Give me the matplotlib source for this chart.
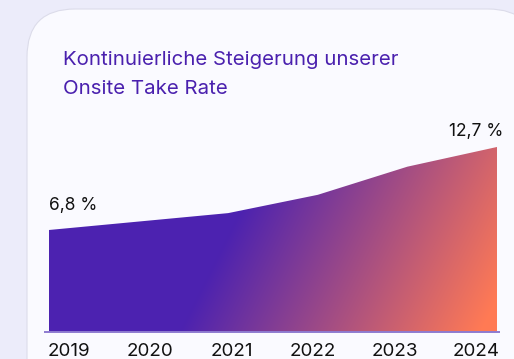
import numpy as np
import matplotlib
matplotlib.use("Agg")
import matplotlib.pyplot as plt
from matplotlib.patches import FancyBboxPatch, Polygon
from matplotlib.colors import to_rgb

# --- data -------------------------------------------------------------
years = ["2019", "2020", "2021", "2022", "2023", "2024"]
take_rate = [6.8, 7.4, 8.0, 9.3, 11.3, 12.7]
first_label = "6,8 %"
last_label = "12,7 %"
title_lines = ["Kontinuierliche Steigerung unserer", "Onsite Take Rate"]

# --- style ------------------------------------------------------------
FONT = "Inter"
BG_OUTER = "#ececfa"
BG_CARD = "#fafaff"
PURPLE = "#4c22b0"
ORANGE = "#ff7a55"
TITLE_COLOR = "#4a20ae"

W, H = 514, 359
DPI = 100
fig = plt.figure(figsize=(W / DPI, H / DPI), dpi=DPI)
fig.patch.set_facecolor(BG_OUTER)

# card with rounded corners (pixel coordinates, origin bottom-left)
card = FancyBboxPatch((27, -60), 536 - 27, (H - 9) + 60,
                      boxstyle="round,pad=0,rounding_size=48",
                      transform=None, facecolor=BG_CARD,
                      edgecolor="#dcdcea", linewidth=0.8, zorder=-5)
fig.patches.append(card)

# title
for i, line in enumerate(title_lines):
    fig.text(63 / W, 1 - (65 + i * 29) / H, line, fontsize=14.7,
             family=FONT, color=TITLE_COLOR, ha="left", va="baseline",
             zorder=5)

# --- chart axes -------------------------------------------------------
x_left, x_right = 49, 497          # pixel span of the area
y_base, y_top = 332, 100           # pixel rows (from top)
ylo = -0.45
px_per_unit = 14.07
yhi = ylo + (y_base - y_top) / px_per_unit

ax = fig.add_axes([x_left / W, (H - y_base) / H,
                   (x_right - x_left) / W, (y_base - y_top) / H])
ax.set_zorder(2)
ax.set_xlim(0, len(years) - 1)
ax.set_ylim(ylo, yhi)
ax.axis("off")

x = np.arange(len(years))
y = np.array(take_rate)

# diagonal purple-to-orange gradient, clipped to the area polygon
nh, nw = (y_base - y_top), (x_right - x_left)
cols = x_left + np.arange(nw)
rows = y_top + np.arange(nh)
XX, YY = np.meshgrid(cols, rows)
t = ((XX - 195) * 0.894 + (YY - 300) * 0.447) / 268.0
t = np.clip(t, 0, 1)[..., None]
c0 = np.array(to_rgb(PURPLE))
c1 = np.array(to_rgb(ORANGE))
img = (1 - t) * c0 + t * c1
im = ax.imshow(img, extent=[0, len(years) - 1, ylo, yhi], origin="upper",
               aspect="auto", interpolation="bilinear", zorder=1)

verts = [(x[0], ylo)] + list(zip(x, y)) + [(x[-1], ylo)]
poly = Polygon(verts, closed=True, facecolor="none", edgecolor="none",
               transform=ax.transData)
ax.add_patch(poly)
im.set_clip_path(poly)

# baseline
unit_px = (x_right - x_left) / (len(years) - 1)
ax.plot([(44 - x_left) / unit_px, (500 - x_left) / unit_px], [ylo, ylo],
        color="#8e7bd0", lw=1.4, clip_on=False, zorder=3,
        solid_capstyle="butt")

# value labels at first and last point
ax.annotate(first_label, (x[0], y[0]), xytext=(0, 14.5),
            textcoords="offset points", ha="left", va="baseline",
            fontsize=12.5, family=FONT, color="#111111", annotation_clip=False)
ax.annotate(last_label, (x[-1], y[-1]), xytext=(4.5, 8),
            textcoords="offset points", ha="right", va="baseline",
            fontsize=12.5, family=FONT, color="#111111", annotation_clip=False)

# year labels spread across the full width
n = len(years)
base_y = 1 - 355.5 / H
for i, yr in enumerate(years):
    if i == 0:
        fig.text(48 / W, base_y, yr, ha="left", va="baseline",
                 fontsize=13.5, family=FONT, color="#111111", zorder=5)
    elif i == n - 1:
        fig.text(500 / W, base_y, yr, ha="right", va="baseline",
                 fontsize=13.5, family=FONT, color="#111111", zorder=5)
    else:
        cx = 69 + (476 - 69) * i / (n - 1)
        fig.text(cx / W, base_y, yr, ha="center", va="baseline",
                 fontsize=13.5, family=FONT, color="#111111", zorder=5)

fig.savefig("out.png", dpi=DPI, facecolor=fig.get_facecolor())
